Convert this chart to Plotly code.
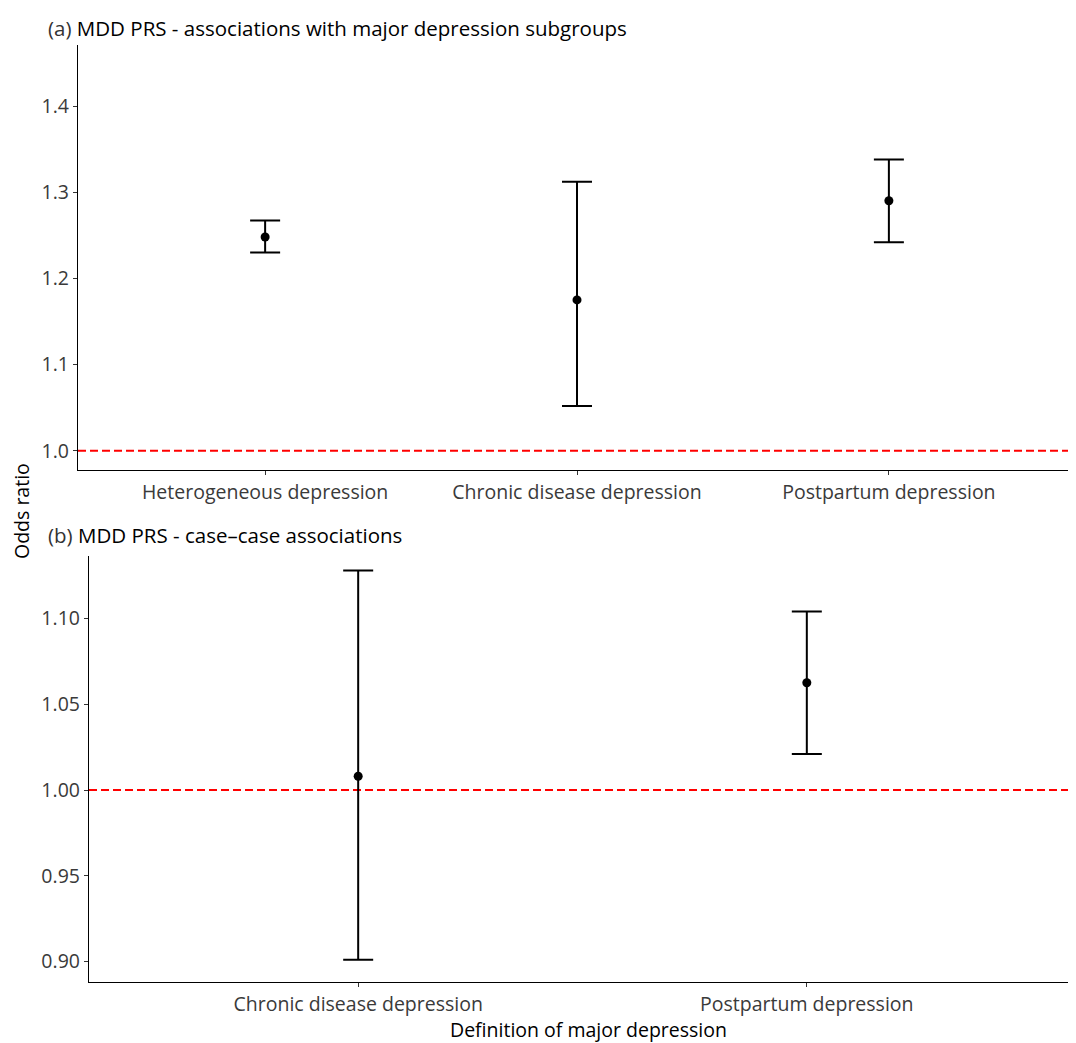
import plotly.graph_objects as go

# ---- data ----
cats_a = ["Heterogeneous depression", "Chronic disease depression", "Postpartum depression"]
or_a = [1.248, 1.175, 1.290]
lo_a = [1.230, 1.052, 1.242]
hi_a = [1.267, 1.312, 1.338]

cats_b = ["Chronic disease depression", "Postpartum depression"]
or_b = [1.008, 1.0625]
lo_b = [0.901, 1.021]
hi_b = [1.128, 1.104]

yticks_a = [1.0, 1.1, 1.2, 1.3, 1.4]
yticks_b = [0.90, 0.95, 1.00, 1.05, 1.10]
ref_line = 1.0

FONT = "Open Sans"
OFF = 8  # default page margin of the html body
W, H = 1076 - OFF, 1043 - OFF


def px_x(v):
    return (v - OFF) / W


def px_y(v):
    return 1 - (v - OFF) / H


fig = go.Figure()


def add_panel(cats, ors, los, his, xa, ya):
    fig.add_trace(go.Scatter(
        x=cats, y=ors, mode="markers", xaxis=xa, yaxis=ya,
        marker=dict(color="black", size=9),
        error_y=dict(type="data", symmetric=False,
                     array=[h - o for h, o in zip(his, ors)],
                     arrayminus=[o - l for o, l in zip(ors, los)],
                     color="black", thickness=2, width=15),
        showlegend=False, hoverinfo="skip"))
    fig.add_shape(type="line", xref=xa + " domain", yref=ya, x0=0, x1=1,
                  y0=ref_line, y1=ref_line,
                  line=dict(color="#ff0000", width=2, dash="8px,4px"), layer="below")


add_panel(cats_a, or_a, lo_a, hi_a, "x", "y")
add_panel(cats_b, or_b, lo_b, hi_b, "x2", "y2")

axis_common = dict(showline=True, linecolor="black", linewidth=1.3, mirror=False,
                   ticks="outside", ticklen=4, tickcolor="#333333", tickwidth=1.2,
                   showgrid=False, zeroline=False,
                   tickfont=dict(family=FONT, size=19.5, color="#3a3a3a"))

fig.update_layout(
    width=W, height=H,
    margin=dict(l=0, r=0, t=0, b=0),
    paper_bgcolor="white", plot_bgcolor="white",
    xaxis=dict(axis_common, domain=[px_x(78), 1], anchor="y", type="category",
               range=[-0.6, 2.6], categoryorder="array", categoryarray=cats_a),
    yaxis=dict(axis_common, domain=[px_y(470), px_y(45)], anchor="x",
               range=[0.9776, 1.4708], tickvals=yticks_a,
               ticktext=[f"{v:.1f}" for v in yticks_a]),
    xaxis2=dict(axis_common, domain=[px_x(89), 1], anchor="y2", type="category",
                range=[-0.6, 1.6], categoryorder="array", categoryarray=cats_b),
    yaxis2=dict(axis_common, domain=[px_y(982), px_y(556)], anchor="x2",
                range=[0.8881, 1.1364], tickvals=yticks_b,
                ticktext=[f"{v:.2f}" for v in yticks_b]),
    annotations=[
        dict(text="<span style='color:#333333'>(a)</span> MDD PRS - associations with major depression subgroups",
             xref="paper", yref="paper", x=px_x(46), y=px_y(28), xanchor="left", yanchor="middle",
             showarrow=False, font=dict(family=FONT, size=20.5, color="black")),
        dict(text="<span style='color:#333333'>(b)</span> MDD PRS - case\u2013case associations",
             xref="paper", yref="paper", x=px_x(46), y=px_y(535), xanchor="left", yanchor="middle",
             showarrow=False, font=dict(family=FONT, size=20.5, color="black")),
        dict(text="Odds ratio", textangle=-90,
             xref="paper", yref="paper", x=px_x(21), y=px_y(511), xanchor="center", yanchor="middle",
             showarrow=False, font=dict(family=FONT, size=19.5, color="black")),
        dict(text="Definition of major depression",
             xref="paper", yref="paper", x=px_x(588), y=px_y(1029), xanchor="center", yanchor="middle",
             showarrow=False, font=dict(family=FONT, size=19.5, color="black")),
    ],
)

fig.write_html("out.html")
